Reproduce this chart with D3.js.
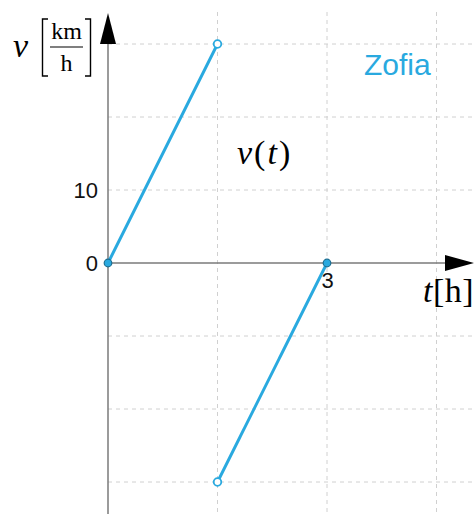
<!DOCTYPE html>
<html><head><meta charset="utf-8">
<script src="https://cdn.jsdelivr.net/npm/d3@7"></script>
<style>body{margin:0;background:#fff}svg{display:block}</style>
</head><body>
<script>
const segment1 = [[0, 0], [1.5, 30]];
const segment2 = [[1.5, -30], [3, 0]];
const closedPoints = [[0, 0], [3, 0]];
const openPoints = [[1.5, 30], [1.5, -30]];
const gridT = [1.5, 3, 4.5];
const gridV = [30, 20, 10, -10, -20, -30];
const yTicks = [0, 10];
const xTicks = [3];
const seriesName = "Zofia";

const W = 474, H = 514;
const blue = "#29a9df";
const svg = d3.select("body").append("svg").attr("width", W).attr("height", H);
const x = d3.scaleLinear().domain([0, 3]).range([108, 327]);
const y = d3.scaleLinear().domain([0, 30]).range([263, 44]);

// grid
svg.append("g").selectAll("line").data(gridT).join("line")
  .attr("x1", d => x(d)).attr("x2", d => x(d)).attr("y1", 12).attr("y2", H)
  .attr("stroke", "#d0d0d0").attr("stroke-dasharray", "4,4").attr("stroke-width", 1);
svg.append("g").selectAll("line").data(gridV).join("line")
  .attr("x1", x(0)).attr("x2", W).attr("y1", d => y(d)).attr("y2", d => y(d))
  .attr("stroke", "#d0d0d0").attr("stroke-dasharray", "4,4").attr("stroke-width", 1);

// axes lines
const axisColor = "#7a7a7a";
svg.append("line").attr("x1", x(0)).attr("x2", x(0)).attr("y1", 43).attr("y2", H)
  .attr("stroke", axisColor).attr("stroke-width", 1.5);
svg.append("line").attr("x1", x(0)).attr("x2", 445).attr("y1", y(0)).attr("y2", y(0))
  .attr("stroke", axisColor).attr("stroke-width", 1.5);
svg.append("path").attr("d", `M${x(0)},13 L${x(0)-8},44 L${x(0)+8},44 Z`).attr("fill", "#000");
svg.append("path").attr("d", `M474,${y(0)} L445,${y(0)-8} L445,${y(0)+8} Z`).attr("fill", "#000");

// tick labels via d3 axes
const ya = svg.append("g").attr("transform", `translate(${x(0)},0)`)
  .call(d3.axisLeft(y).tickValues(yTicks).tickFormat(d3.format("d")).tickSize(0).tickPadding(10));
ya.select(".domain").remove();
ya.attr("font-size", 22).attr("font-family", "Liberation Sans, Arial, sans-serif");
ya.selectAll("text").attr("fill", "#111").attr("dy", "0.36em");
const xa = svg.append("g").attr("transform", `translate(0,${y(0)})`)
  .call(d3.axisBottom(x).tickValues(xTicks).tickFormat(d3.format("d")).tickSize(0).tickPadding(6));
xa.select(".domain").remove();
xa.attr("font-size", 22).attr("font-family", "Liberation Sans, Arial, sans-serif");
xa.selectAll("text").attr("fill", "#111").attr("dy", "0.88em");

// lines
const line = d3.line().x(d => x(d[0])).y(d => y(d[1]));
[segment1, segment2].forEach(s => svg.append("path").attr("d", line(s))
  .attr("fill", "none").attr("stroke", blue).attr("stroke-width", 3));
svg.append("g").selectAll("circle").data(openPoints).join("circle")
  .attr("cx", d => x(d[0])).attr("cy", d => y(d[1])).attr("r", 3.8)
  .attr("fill", "#fff").attr("stroke", blue).attr("stroke-width", 1.8);
svg.append("g").selectAll("circle").data(closedPoints).join("circle")
  .attr("cx", d => x(d[0])).attr("cy", d => y(d[1])).attr("r", 3.8)
  .attr("fill", blue).attr("stroke", "#1c6f93").attr("stroke-width", 1.2);

// math labels
const serif = "Liberation Serif, Times New Roman, serif";
svg.append("text").attr("x", 13).attr("y", 57).attr("font-family", serif).attr("font-style", "italic")
  .attr("font-size", 34).text("v");
svg.append("path").attr("d", "M48,19 L42.5,19 L42.5,76 L48,76").attr("fill", "none").attr("stroke", "#000").attr("stroke-width", 1.4);
svg.append("path").attr("d", "M85,19 L90.5,19 L90.5,76 L85,76").attr("fill", "none").attr("stroke", "#000").attr("stroke-width", 1.4);
svg.append("text").attr("x", 66.5).attr("y", 39).attr("text-anchor", "middle").attr("font-family", serif)
  .attr("font-size", 24).text("km");
svg.append("line").attr("x1", 50).attr("x2", 83).attr("y1", 47).attr("y2", 47).attr("stroke", "#000").attr("stroke-width", 1.2);
svg.append("text").attr("x", 66.5).attr("y", 71).attr("text-anchor", "middle").attr("font-family", serif)
  .attr("font-size", 24).text("h");

const tl = svg.append("text").attr("x", 423).attr("y", 302).attr("font-family", serif).attr("font-size", 34)
  .attr("letter-spacing", 0.5);
tl.append("tspan").attr("font-style", "italic").text("t");
tl.append("tspan").text("[h]");

const vt = svg.append("text").attr("x", 237).attr("y", 164).attr("font-family", serif).attr("font-size", 34)
  .attr("letter-spacing", 2);
vt.append("tspan").attr("font-style", "italic").text("v");
vt.append("tspan").text("(");
vt.append("tspan").attr("font-style", "italic").text("t");
vt.append("tspan").text(")");

svg.append("text").attr("x", 364).attr("y", 75).attr("font-family", "Liberation Sans, Arial, sans-serif")
  .attr("font-size", 30).attr("fill", blue).text(seriesName);
</script>
</body></html>
